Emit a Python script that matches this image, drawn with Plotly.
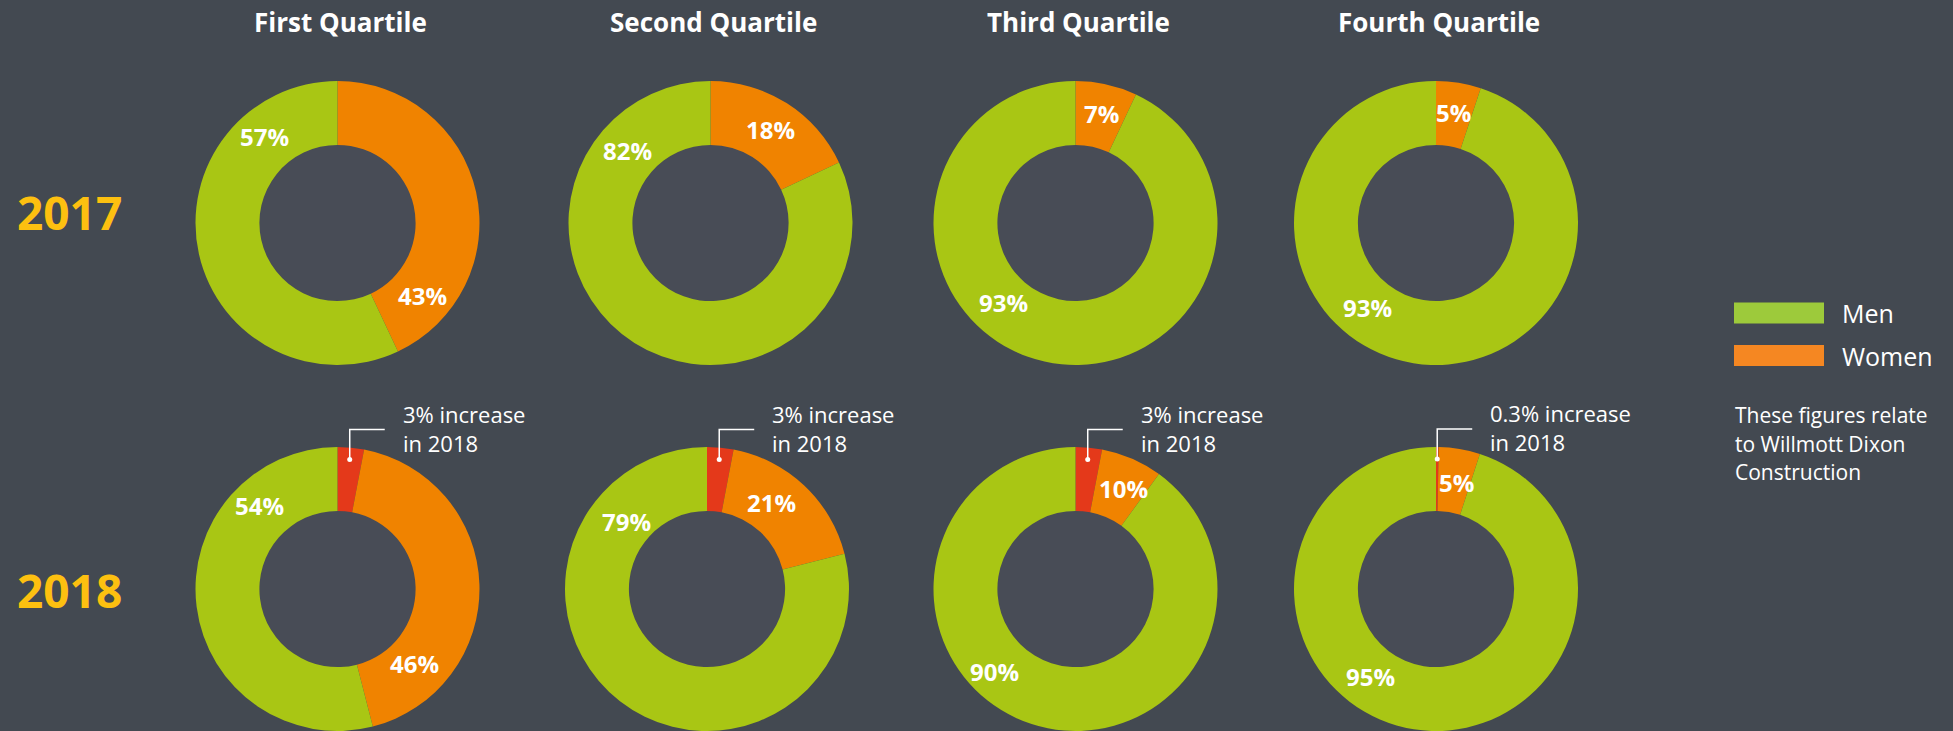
import math
import plotly.graph_objects as go

# ---------------- data ----------------
quartiles = ["First Quartile", "Second Quartile", "Third Quartile", "Fourth Quartile"]
years = ["2017", "2018"]
men_2017 = [57, 82, 93, 93]
women_2017 = [43, 18, 7, 5]
men_2018 = [54, 79, 90, 95]
women_2018 = [46, 21, 10, 5]
increase_2018 = [3, 3, 3, 0.3]
legend_labels = ["Men", "Women"]
note_lines = ["These figures relate", "to Willmott Dixon", "Construction"]

# ---------------- layout constants ----------------
W, H = 1953, 731
R = 142
HOLE = 0.55
col_cx = [[337.5, 710.5, 1075.5, 1436], [337.5, 707, 1075.5, 1436]]
row_cy = [223, 589]

BG = "#434951"
HOLE_BG = "#484C56"
GREEN = "#A9C614"
ORANGE = "#F08300"
RED = "#E4391A"
LEG_GREEN = "#9DCA3B"
LEG_ORANGE = "#F58722"
YEAR_COL = "#FDC010"
FONT = "Open Sans"

# label offsets (px from donut centre): (men, women)
label_off = [
    [((-73.5, -87), (84.5, 72)), ((-83.5, -73), (59.5, -94)),
     ((-72.5, 79), (25.5, -109)), ((-69, 84), (17, -111))],
    [((-78.5, -84), (76.5, 74)), ((-81, -68), (64.7, -86)),
     ((-81.5, 82), (47.5, -101)), ((-66, 87), (20, -107))],
]


def px(x):
    return x / W


def py(y):
    return 1 - y / H


fig = go.Figure()
shapes = []
annotations = []

for r in range(2):
    for c in range(4):
        cx, cy = col_cx[r][c], row_cy[r]
        dom_x = [max(0, px(cx - R)), min(1, px(cx + R))]
        dom_y = [max(0, py(cy + R)), min(1, py(cy - R))]
        if r == 0:
            vals = [women_2017[c], men_2017[c]]
            cols = [ORANGE, GREEN]
            men_txt, women_txt = men_2017[c], women_2017[c]
        else:
            vals = [increase_2018[c], women_2018[c] - increase_2018[c], men_2018[c]]
            cols = [RED, ORANGE, GREEN]
            men_txt, women_txt = men_2018[c], women_2018[c]
        fig.add_trace(go.Pie(
            values=vals, marker=dict(colors=cols, line=dict(width=0)),
            hole=HOLE, sort=False, direction="clockwise", rotation=0,
            textinfo="none", hoverinfo="skip", showlegend=False,
            domain=dict(x=dom_x, y=dom_y),
        ))
        # hole fill
        rh = R * HOLE + 1
        shapes.append(dict(type="circle", xref="paper", yref="paper",
                           x0=px(cx - rh), x1=px(cx + rh), y0=py(cy + rh), y1=py(cy - rh),
                           fillcolor=HOLE_BG, line=dict(width=0), layer="below"))
        # percentage labels
        (mdx, mdy), (wdx, wdy) = label_off[r][c]
        for txt, dx, dy in ((men_txt, mdx, mdy), (women_txt, wdx, wdy)):
            annotations.append(dict(
                x=px(cx + dx), y=py(cy + dy), xref="paper", yref="paper",
                text=f"<b>{txt:g}%</b>", showarrow=False,
                xanchor="center", yanchor="middle",
                font=dict(family=FONT, size=24, color="white")))
        # callouts for 2018
        if r == 1:
            ang = math.radians(360 * increase_2018[c] / 100 / 2)
            dot_x = cx + 130 * math.sin(ang)
            dot_y = cy - 130 * math.cos(ang)
            top_y = dot_y - 30
            end_x = dot_x + 35
            shapes.append(dict(type="path", xref="paper", yref="paper",
                               path=f"M {px(dot_x)},{py(dot_y)} L {px(dot_x)},{py(top_y)} L {px(end_x)},{py(top_y)}",
                               line=dict(color="white", width=1.5)))
            shapes.append(dict(type="circle", xref="paper", yref="paper",
                               x0=px(dot_x - 2.5), x1=px(dot_x + 2.5),
                               y0=py(dot_y + 2.5), y1=py(dot_y - 2.5),
                               fillcolor="white", line=dict(width=0)))
            for txt, ty in ((f"{increase_2018[c]:g}% increase", top_y - 16),
                            ("in 2018", top_y + 13)):
                annotations.append(dict(
                    x=px(dot_x + 51), y=py(ty), xref="paper", yref="paper",
                    text=txt, showarrow=False, xanchor="left", yanchor="middle",
                    font=dict(family=FONT, size=22, color="white")))

# quartile titles
for c, q in enumerate(quartiles):
    annotations.append(dict(
        x=px(col_cx[0][c] + 3), y=py(22), xref="paper", yref="paper",
        text=f"<b>{q}</b>", showarrow=False, xanchor="center", yanchor="middle",
        font=dict(family=FONT, size=26, color="white")))

# year labels
for r, yr in enumerate(years):
    annotations.append(dict(
        x=px(15), y=py(row_cy[r] - 11 if r == 0 else row_cy[r] + 1), xref="paper", yref="paper",
        text=f"<b>{yr}</b>", showarrow=False, xanchor="left", yanchor="middle",
        font=dict(family=FONT, size=46, color=YEAR_COL)))

# legend
leg_cols = [LEG_GREEN, LEG_ORANGE]
leg_y = [313, 355.5]
for lbl, colr, ly in zip(legend_labels, leg_cols, leg_y):
    shapes.append(dict(type="rect", xref="paper", yref="paper",
                       x0=px(1734), x1=px(1824), y0=py(ly + 10.5), y1=py(ly - 10.5),
                       fillcolor=colr, line=dict(width=0)))
    annotations.append(dict(
        x=px(1840), y=py(ly), xref="paper", yref="paper",
        text=lbl, showarrow=False, xanchor="left", yanchor="middle",
        font=dict(family=FONT, size=25, color="white")))

# note
for i, line in enumerate(note_lines):
    annotations.append(dict(
        x=px(1733), y=py(415 + 28.7 * i), xref="paper", yref="paper",
        text=line, showarrow=False, xanchor="left", yanchor="middle",
        font=dict(family=FONT, size=21, color="white")))

fig.update_layout(
    width=W, height=H,
    margin=dict(l=0, r=0, t=0, b=0),
    paper_bgcolor=BG, plot_bgcolor=BG,
    shapes=shapes, annotations=annotations,
    showlegend=False,
)

fig.write_html("out.html")
